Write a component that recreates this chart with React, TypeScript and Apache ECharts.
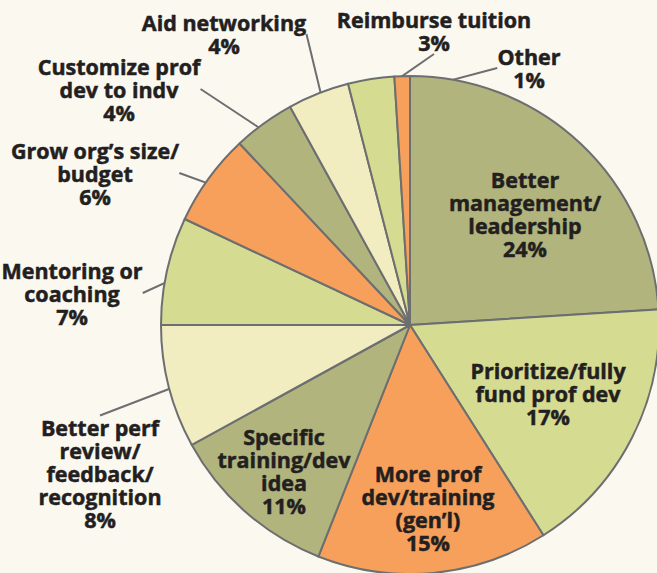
import React, { useEffect, useRef } from "react";
import * as echarts from "echarts";

const categories: string[] = [
  "Better\nmanagement/\nleadership",
  "Prioritize/fully\nfund prof dev",
  "More prof\ndev/training\n(gen’l)",
  "Specific\ntraining/dev\nidea",
  "Better perf\nreview/\nfeedback/\nrecognition",
  "Mentoring or\ncoaching",
  "Grow org’s size/\nbudget",
  "Customize prof\ndev to indv",
  "Aid networking",
  "Reimburse tuition",
  "Other",
];
const values: number[] = [24, 17, 15, 11, 8, 7, 6, 4, 4, 3, 1];

const OLIVE = "#b1b47c";
const LIME = "#d6db92";
const ORANGE = "#f6a05b";
const CREAM = "#f2ecc1";
const sliceColors: string[] = [OLIVE, LIME, ORANGE, OLIVE, CREAM, LIME, ORANGE, OLIVE, CREAM, LIME, ORANGE];
const hasLeader: boolean[] = [false, false, false, false, true, true, true, true, true, true, true];
// label block centres (layout only)
const labelCenters: number[][] = [
  [525, 214], [548, 393], [428, 508], [284, 471], [100, 473],
  [72, 293], [95, 173], [119, 89], [224, 34], [434, 31], [529, 68],
];

export default function App() {
  const ref = useRef<HTMLDivElement>(null);
  useEffect(() => {
    if (!ref.current) return;
    const chart = echarts.init(ref.current, null, { renderer: "svg" });
    chart.setOption({
      animation: false,
      backgroundColor: "#fbf8f0",
      series: [
        {
          type: "pie",
          center: [410, 325],
          radius: 249,
          startAngle: 90,
          clockwise: true,
          silent: true,
          label: { show: false },
          labelLine: { show: false },
          itemStyle: { borderColor: "#6d6e70", borderWidth: 2 },
          data: categories.map((n, i) => ({ name: n, value: values[i], itemStyle: { color: sliceColors[i] } })),
        },
        {
          type: "pie",
          center: [410, 325],
          radius: 232,
          startAngle: 90,
          clockwise: true,
          silent: true,
          avoidLabelOverlap: false,
          itemStyle: { color: "rgba(0,0,0,0)", borderWidth: 0 },
          label: {
            show: true,
            position: "outside",
            formatter: "{b}\n{c}%",
            color: "#231f20",
            fontFamily: "Open Sans",
            fontWeight: "bold",
            fontSize: 21.5,
            lineHeight: 23,
            align: "center",
            textBorderColor: "#231f20",
            textBorderWidth: 0.5,
          },
          labelLine: { show: true, length: 0, length2: 0, lineStyle: { color: "#6d6e70", width: 2 } },
          labelLayout: (p: any) => ({
            x: labelCenters[p.dataIndex][0],
            y: labelCenters[p.dataIndex][1],
            align: "center",
            verticalAlign: "middle",
          }),
          data: categories.map((n, i) => ({
            name: n,
            value: values[i],
            labelLine: { show: hasLeader[i] },
          })),
        },
      ],
    });
    return () => chart.dispose();
  }, []);
  return <div ref={ref} style={{ position: "absolute", left: 0, top: 0, width: 657, height: 573 }} />;
}
